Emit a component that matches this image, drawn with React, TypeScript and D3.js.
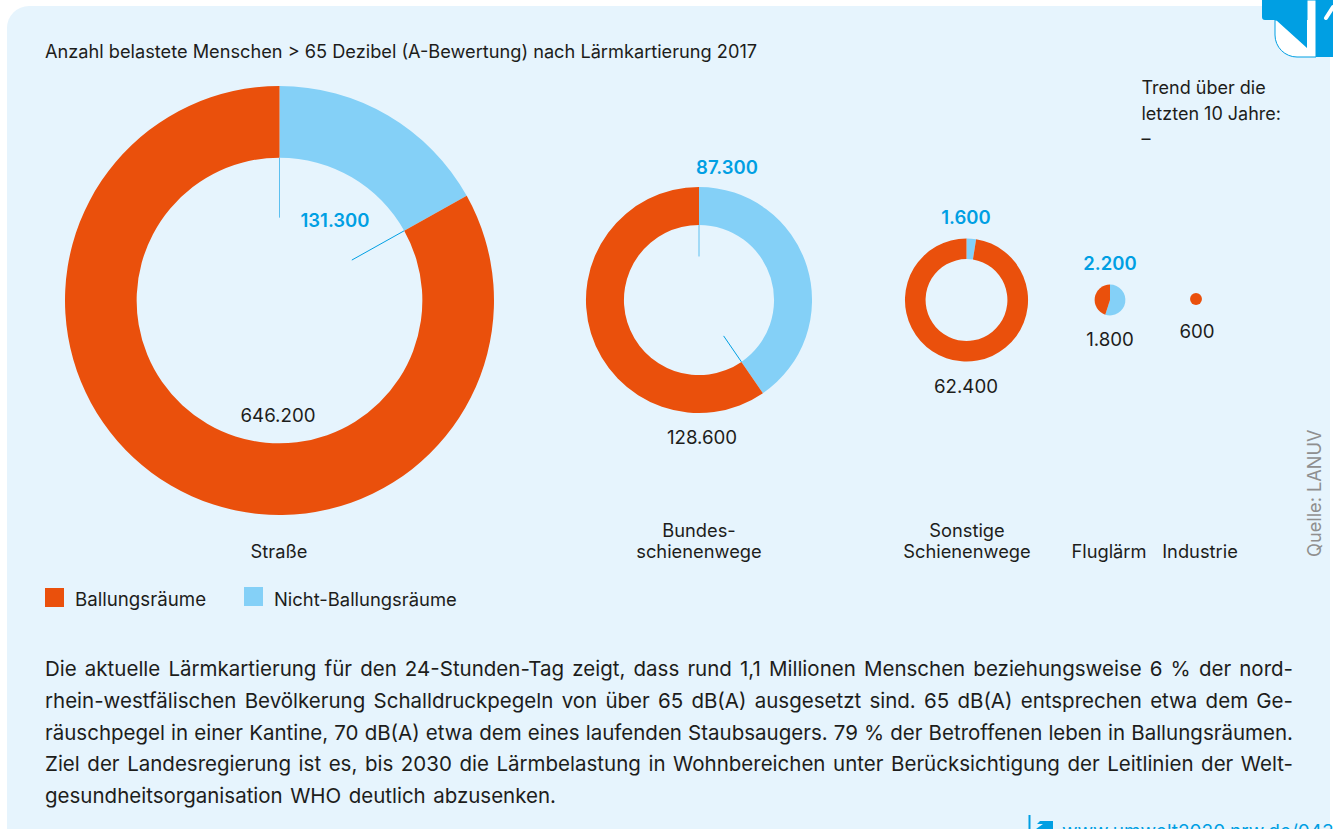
import React, { useLayoutEffect, useRef } from "react";
import * as d3 from "d3";

const categories = ["Straße", "Bundesschienenwege", "Sonstige Schienenwege", "Fluglärm", "Industrie"];
const ballungsraeume = [646200, 128600, 62400, 1800, 600];
const nichtBallungsraeume = [131300, 87300, 1600, 2200, 0];
const holeRatios = [0.666, 0.664, 0.665, 0, 0];
const leaderFlags = [true, true, false, false, false];
const centerX = [279.5, 699, 966.5, 1110, 1196];
const centerY = [300.5, 300, 300, 300, 299];
const categoryLabels = [["Straße"], ["Bundes-", "schienenwege"], ["Sonstige", "Schienenwege"], ["Fluglärm"], ["Industrie"]];
const categoryLabelX = [279, 699, 967, 1109, 1200];
const ballungLabelPos = [[278, 422], [702, 444], [966, 393], [1110, 346], [1197, 338]];
const nichtLabelPos = [[335, 227], [727, 174], [966, 224], [1110, 270]];
const legendLabels = ["Ballungsräume", "Nicht-Ballungsräume"];
const trendLines = ["Trend über die", "letzten 10 Jahre:", "–"];
const bodyLines = [
  "Die aktuelle Lärmkartierung für den 24-Stunden-Tag zeigt, dass rund 1,1 Millionen Menschen beziehungsweise 6 % der nord-",
  "rhein-westfälischen Bevölkerung Schalldruckpegeln von über 65 dB(A) ausgesetzt sind. 65 dB(A) entsprechen etwa dem Ge-",
  "räuschpegel in einer Kantine, 70 dB(A) etwa dem eines laufenden Staubsaugers. 79 % der Betroffenen leben in Ballungsräumen.",
  "Ziel der Landesregierung ist es, bis 2030 die Lärmbelastung in Wohnbereichen unter Berücksichtigung der Leitlinien der Welt-",
  "gesundheitsorganisation WHO deutlich abzusenken.",
];
const bodyWidths = [1248, 1248, 1248, 1248, 511];

const ORANGE = "#ea500c";
const LIGHT = "#84d0f7";
const BLUE = "#009fe3";
const BG = "#e6f4fd";
const INK = "#1d1d1b";
const FONT = "Inter, 'Noto Sans', sans-serif";

const fmt = d3.formatLocale({ decimal: ",", thousands: ".", grouping: [3], currency: ["", ""] }).format(",d");
const totals = ballungsraeume.map((v, i) => v + nichtBallungsraeume[i]);
const radius = d3.scaleSqrt().domain([0, d3.max(totals) as number]).range([0, 214.5]);
const pieGen = d3.pie<number>().sort(null);

function Donut({ i }: { i: number }) {
  const R = radius(totals[i]);
  const r = R * holeRatios[i];
  const slices = pieGen([nichtBallungsraeume[i], ballungsraeume[i]]);
  const arc = d3.arc<any>().innerRadius(r).outerRadius(R);
  const colors = [LIGHT, ORANGE];
  const boundary = slices[0].endAngle;
  const polar = (a: number, rad: number) => [Math.sin(a) * rad, -Math.cos(a) * rad];
  return (
    <g transform={`translate(${centerX[i]},${centerY[i]})`}>
      {slices.map((s, k) => s.value > 0 && <path key={k} d={arc(s) as string} fill={colors[k]} />)}
      {leaderFlags[i] &&
        [0, boundary].map((a, k) => {
          const [x1, y1] = polar(a, r);
          const [x2, y2] = polar(a, r * 0.58);
          return <line key={k} x1={x1} y1={y1} x2={x2} y2={y2} stroke={k === 0 ? "#5cc0f0" : BLUE} strokeWidth={1} />;
        })}
    </g>
  );
}

function App() {
  const bodyRef = useRef<SVGGElement>(null);
  useLayoutEffect(() => {
    d3.select(bodyRef.current).selectAll<SVGTextElement, unknown>("text").each(function (_, i) {
      const content = this.textContent || "";
      const gaps = content.split(" ").length - 1;
      const w = this.getComputedTextLength();
      const ws = Math.max(-1.5, (bodyWidths[i] - w) / gaps);
      const rest = bodyWidths[i] - w - ws * gaps;
      this.setAttribute("word-spacing", String(ws));
      this.setAttribute("letter-spacing", String(rest / content.length));
    });
  }, []);

  return (
    <svg width={1333} height={829} style={{ position: "absolute", left: 0, top: 0, fontFamily: FONT }}>
      <rect width={1333} height={829} fill="#fff" />
      <path d="M7 829V28a22 22 0 0 1 22-22H1330V829Z" fill={BG} />

      {/* corner mark */}
      <path d="M1275 20V35a22 22 0 0 0 22 22h19V0h-9V20Z" fill="#fff" stroke={BLUE} strokeWidth={1} />
      <path d="M1262 0H1307V48L1276 20H1265a3 3 0 0 1-3-3Z" fill={BLUE} />
      <path d="M1316 0H1333V57H1316Z" fill={BLUE} />
      <path d="M1326 18L1333 7" stroke="#fff" strokeWidth={4} strokeLinecap="round" />

      <text x={45} y={58} fontSize={18.2} fill={INK}>
        Anzahl belastete Menschen &gt; 65 Dezibel (A-Bewertung) nach Lärmkartierung 2017
      </text>
      {trendLines.map((t, i) => (
        <text key={i} x={1141.5} y={94 + i * 25.5} fontSize={18} fill={INK}>{t}</text>
      ))}

      {categories.map((_, i) => <Donut key={i} i={i} />)}

      {ballungsraeume.map((v, i) => (
        <text key={i} x={ballungLabelPos[i][0]} y={ballungLabelPos[i][1]} textAnchor="middle" fontSize={18.7} fill={INK}>{fmt(v)}</text>
      ))}
      {nichtBallungsraeume.map((v, i) =>
        v > 0 ? (
          <text key={i} x={nichtLabelPos[i][0]} y={nichtLabelPos[i][1]} textAnchor="middle" fontSize={18.5} fontWeight={600} fill={BLUE}>{fmt(v)}</text>
        ) : null
      )}

      {categoryLabels.map((lines, i) =>
        lines.map((l, k) => (
          <text key={`${i}-${k}`} x={categoryLabelX[i]} y={558 - (lines.length - 1 - k) * 21.5} textAnchor="middle" fontSize={18.3} fill={INK}>{l}</text>
        ))
      )}

      <rect x={45} y={588} width={19} height={19} fill={ORANGE} />
      <text x={75} y={606} fontSize={18.7} fill={INK}>{legendLabels[0]}</text>
      <rect x={244} y={587} width={19} height={19} fill={LIGHT} />
      <text x={274} y={606} fontSize={18.4} fill={INK}>{legendLabels[1]}</text>

      <text transform="translate(1321,557) rotate(-90)" fontSize={18.2} fill="#8f8f8f">Quelle: LANUV</text>

      <g ref={bodyRef}>
        {bodyLines.map((t, i) => (
          <text key={i} x={45} y={676 + i * 31.8} fontSize={20.5} fill={INK}>{t}</text>
        ))}
      </g>

      <line x1={1029.5} y1={815} x2={1029.5} y2={829} stroke={BLUE} strokeWidth={2} />
      <path d="M1036 829L1043 824H1037L1040 821H1053V829Z" fill={BLUE} />
      <text x={1062} y={838} fontSize={19} fill={BLUE}>www.umwelt2020.nrw.de/043</text>
    </svg>
  );
}

export default App;
